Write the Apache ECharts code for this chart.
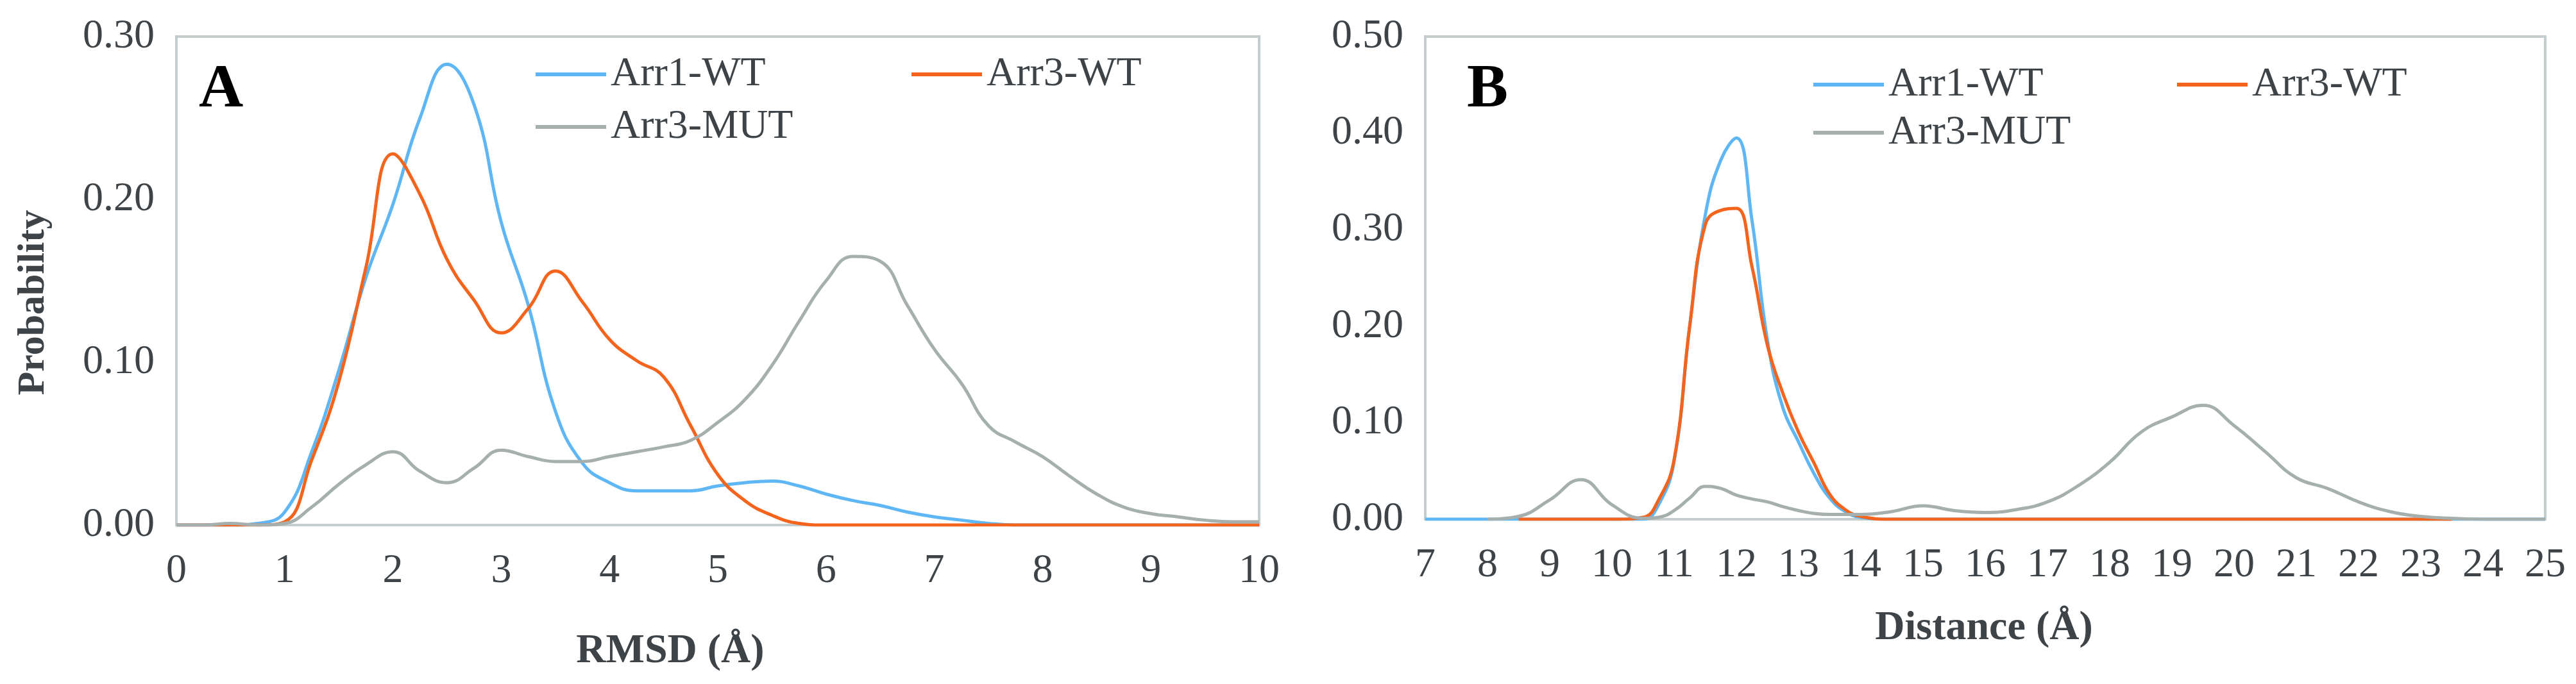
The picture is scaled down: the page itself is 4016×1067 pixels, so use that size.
<!DOCTYPE html>
<html>
<head>
<meta charset="utf-8">
<script src="https://cdn.jsdelivr.net/npm/echarts@6/dist/echarts.min.js"></script>
<style>
    html, body { margin: 0; padding: 0; background: #fff; }
    #chart { width: 4016px; height: 1067px; }
</style>
</head>
<body>
<div id="chart"></div>
<script>
    // panel A: RMSD (Å)
    const xA = [0, 0.25, 0.5, 0.75, 1, 1.25, 1.5, 1.75, 2, 2.25, 2.5, 2.75, 3, 3.25, 3.5, 3.75, 4, 4.25, 4.5, 4.75,
        5, 5.25, 5.5, 5.75, 6, 6.25, 6.5, 6.75, 7, 7.25, 7.5, 7.75, 8, 8.25, 8.5, 8.75, 9, 9.25, 9.5, 9.75, 10];
    const arr1WtA = [0, 0, 0, 0.001, 0.008, 0.045, 0.095, 0.152, 0.197, 0.25, 0.283, 0.258, 0.186, 0.135, 0.07, 0.038, 0.026, 0.021, 0.021, 0.021,
        0.024, 0.026, 0.027, 0.024, 0.019, 0.015, 0.012, 0.008, 0.005, 0.003, 0.001, 0, 0, 0, 0, 0, 0, 0, 0, 0, 0];
    const arr3WtA = [0, 0, 0, 0, 0.002, 0.04, 0.088, 0.158, 0.228, 0.203, 0.163, 0.138, 0.118, 0.133, 0.156, 0.137, 0.114, 0.101, 0.091, 0.061,
        0.031, 0.015, 0.006, 0.001, 0, 0, 0, 0, 0, 0, 0, 0, 0, 0, 0, 0, 0, 0, 0, 0, 0];
    const arr3MutA = [0, 0, 0.001, 0, 0.001, 0.011, 0.025, 0.037, 0.045, 0.033, 0.026, 0.035, 0.046, 0.042, 0.039, 0.039, 0.042, 0.045, 0.048, 0.052,
        0.063, 0.077, 0.098, 0.125, 0.15, 0.165, 0.162, 0.135, 0.108, 0.087, 0.061, 0.051, 0.042, 0.03, 0.019, 0.011, 0.007, 0.005, 0.003, 0.002, 0.002];

    // panel B: Distance (Å)
    const xB = [7, 7.5, 8, 8.5, 9, 9.5, 10, 10.5, 10.75, 11, 11.25, 11.5, 11.75, 12, 12.25, 12.5, 12.75, 13, 13.25, 13.5,
        13.75, 14, 14.5, 15, 15.5, 16, 16.5, 17, 17.5, 18, 18.5, 19, 19.5, 20, 20.5, 21, 21.5, 22, 22.5, 23, 23.5, 24, 24.5, 25];
    const arr1WtB = [0, 0, 0, 0, 0, 0, 0, 0, 0.015, 0.06, 0.2, 0.315, 0.372, 0.395, 0.31, 0.185, 0.115, 0.08, 0.047, 0.022,
        0.008, 0.002, 0, 0, 0, 0, 0, 0, 0, 0, 0, 0, 0, 0, 0, 0, 0, 0, 0, 0, 0, 0, 0, 0];
    const arr3WtB = [null, null, null, 0, 0, 0, 0, 0.002, 0.02, 0.062, 0.2, 0.305, 0.32, 0.322, 0.262, 0.18, 0.13, 0.09, 0.058, 0.026,
        0.01, 0.003, 0, 0, 0, 0, 0, 0, 0, 0, 0, 0, 0, 0, 0, 0, 0, 0, 0, 0, 0, null, null, null];
    const arr3MutB = [null, null, 0, 0.003, 0.02, 0.041, 0.015, 0.001, 0.002, 0.009, 0.022, 0.034, 0.032, 0.025, 0.021, 0.018, 0.013, 0.009, 0.006, 0.005,
        0.005, 0.005, 0.008, 0.014, 0.009, 0.007, 0.01, 0.018, 0.035, 0.059, 0.09, 0.106, 0.118, 0.097, 0.07, 0.043, 0.032, 0.018, 0.008, 0.003,
        0.001, 0, 0, 0];

    const seriesNames = ['Arr1-WT', 'Arr3-WT', 'Arr3-MUT'];
    const colors = ['#5eb6f4', '#f5641c', '#a5afad'];

    const serif = '"Liberation Serif", "Times New Roman", serif';
    const textColor = '#3e4347';
    const borderColor = '#c4cdcd';

    function pairs (xs, ys) {
        return xs.map((x, i) => [x, ys[i] === null ? '-' : ys[i]]);
    }

    function lineSeries (idx, grid, xs, ys) {
        return {
            name: seriesNames[idx],
            type: 'line',
            xAxisIndex: grid,
            yAxisIndex: grid,
            data: pairs(xs, ys),
            smooth: 0.45,
            showSymbol: false,
            symbol: 'none',
            lineStyle: { width: 5, color: colors[idx] },
            itemStyle: { color: colors[idx] }
        };
    }

    function xAxisOf (grid, min, max) {
        return {
            type: 'value',
            gridIndex: grid,
            min: min,
            max: max,
            interval: 1,
            axisLine: { show: false },
            axisTick: { show: false },
            splitLine: { show: false },
            axisLabel: { color: textColor, fontFamily: serif, fontSize: 64, margin: 40 }
        };
    }

    function yAxisOf (grid, max) {
        return {
            type: 'value',
            gridIndex: grid,
            min: 0,
            max: max,
            interval: 0.1,
            axisLine: { show: false },
            axisTick: { show: false },
            splitLine: { show: false },
            axisLabel: {
                color: textColor, fontFamily: serif, fontSize: 64, margin: 34,
                formatter: v => v.toFixed(2)
            }
        };
    }

    function legendItem (name, left, centerY) {
        return {
            data: [name],
            left: left,
            top: centerY - 35,
            padding: 0,
            selectedMode: false,
            icon: 'rect',
            itemWidth: 110,
            itemHeight: 6,
            textStyle: { color: textColor, fontFamily: serif, fontSize: 64, lineHeight: 70, padding: [0, 0, 0, 2] }
        };
    }

    function label (text, x, y, size, rotation, align) {
        return {
            type: 'text',
            x: x,
            y: y,
            rotation: rotation || 0,
            style: {
                text: text,
                font: 'bold ' + size + 'px ' + serif,
                fill: size > 80 ? '#000' : textColor,
                textAlign: align || 'center',
                textVerticalAlign: 'middle'
            }
        };
    }

    const chart = echarts.init(document.getElementById('chart'));
    chart.setOption({
        backgroundColor: '#fff',
        animation: false,
        grid: [
            { left: 275, top: 57, width: 1688, height: 762, show: true, borderColor: borderColor, borderWidth: 4, backgroundColor: 'transparent' },
            { left: 2222, top: 57, width: 1746, height: 753, show: true, borderColor: borderColor, borderWidth: 4, backgroundColor: 'transparent' }
        ],
        xAxis: [xAxisOf(0, 0, 10), xAxisOf(1, 7, 25)],
        yAxis: [yAxisOf(0, 0.3), yAxisOf(1, 0.5)],
        legend: [
            legendItem('Arr1-WT', 835, 116),
            legendItem('Arr3-WT', 1421, 116),
            legendItem('Arr3-MUT', 835, 198),
            legendItem('Arr1-WT', 2827, 132),
            legendItem('Arr3-WT', 3394, 132),
            legendItem('Arr3-MUT', 2827, 207)
        ],
        graphic: [
            label('A', 310, 141, 96, 0, 'left'),
            label('B', 2287, 141, 96, 0, 'left'),
            label('Probability', 52, 472, 60, Math.PI / 2),
            label('RMSD (Å)', 1045, 1016, 64),
            label('Distance (Å)', 3093, 980, 64)
        ],
        series: [
            lineSeries(0, 0, xA, arr1WtA),
            lineSeries(1, 0, xA, arr3WtA),
            lineSeries(2, 0, xA, arr3MutA),
            lineSeries(0, 1, xB, arr1WtB),
            lineSeries(1, 1, xB, arr3WtB),
            lineSeries(2, 1, xB, arr3MutB)
        ]
    });
</script>
</body>
</html>
